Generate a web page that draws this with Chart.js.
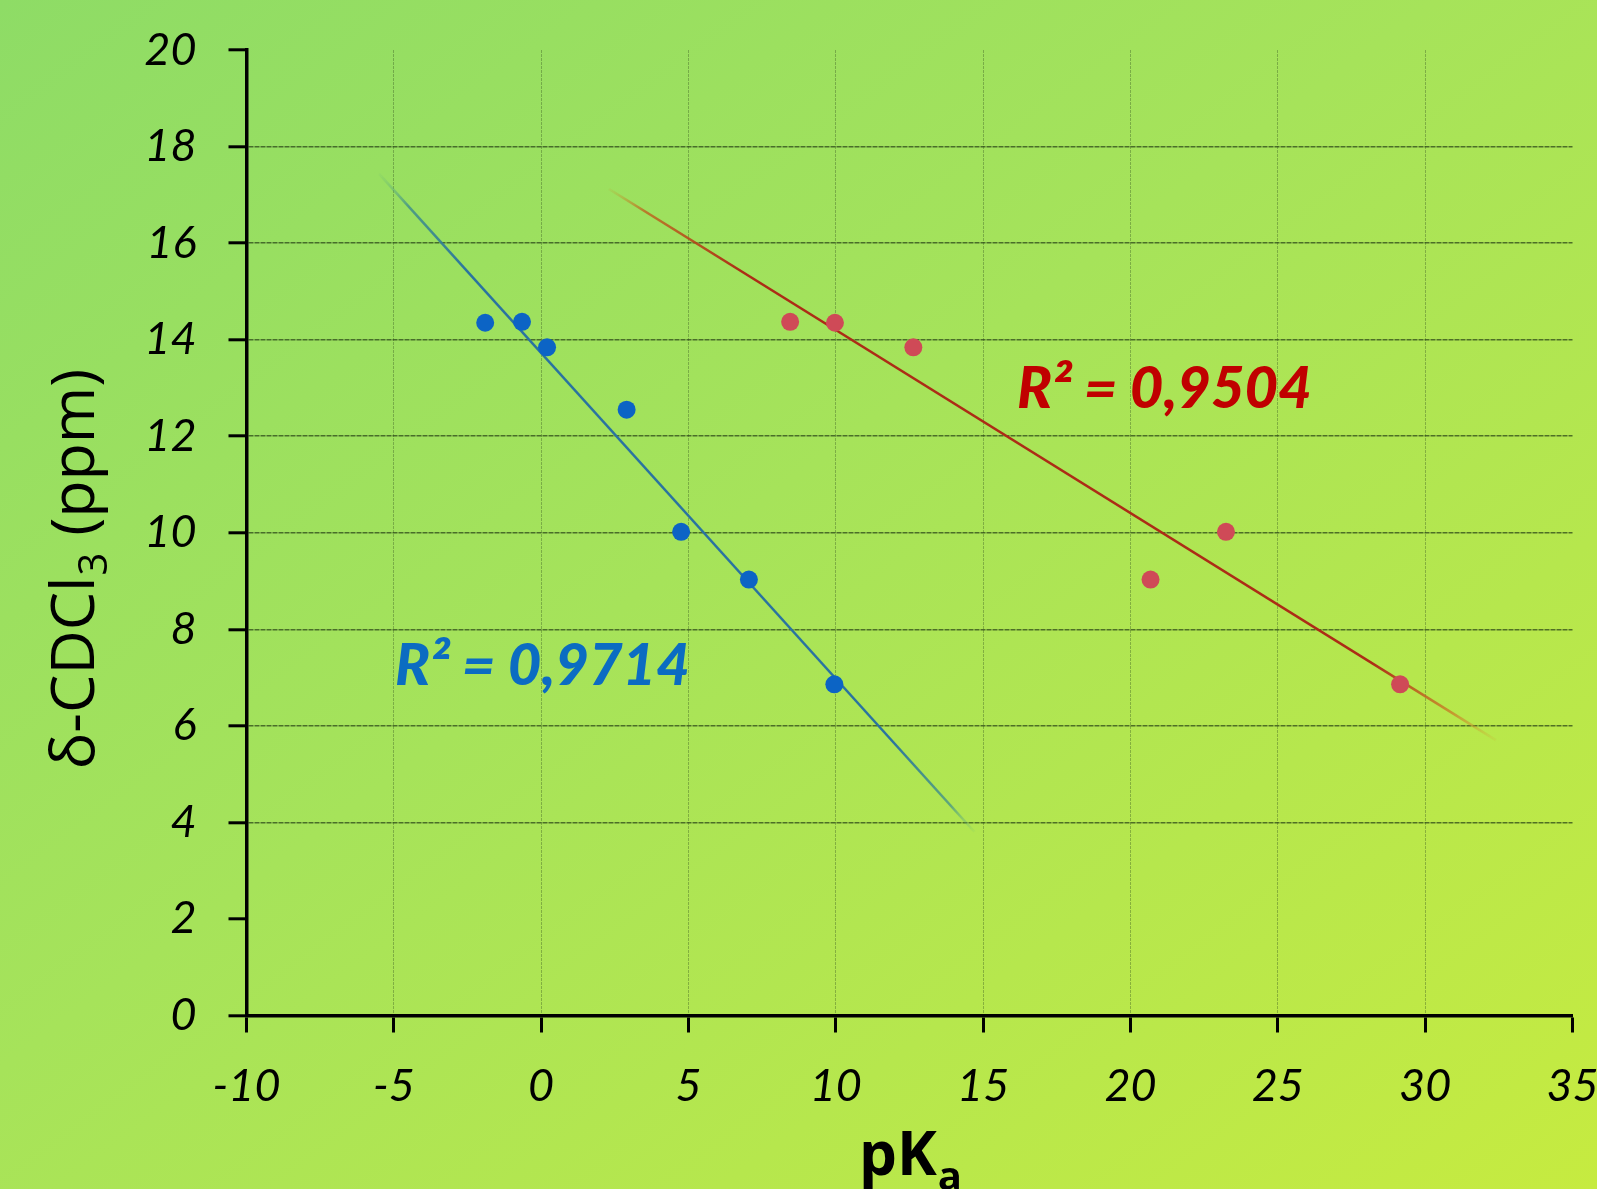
<!DOCTYPE html>
<html>
<head>
<meta charset="utf-8">
<title>pKa vs shift</title>
<script src="https://cdn.jsdelivr.net/npm/chart.js@4.4.1/dist/chart.umd.min.js"></script>
<style>
  html, body { margin: 0; padding: 0; }
  body {
    width: 1597px; height: 1189px; overflow: hidden;
    background: linear-gradient(to bottom right, #8edc66 0%, #a6e35a 45%, #c6eb40 100%);
  }
  #wrap { width: 1597px; height: 1189px; }
</style>
</head>
<body>
<div id="wrap"><canvas id="chart" width="1597" height="1189"></canvas></div>
<script>
// blue series
const bluePka = [-1.9, -0.65, 0.2, 2.9, 4.75, 7.05, 9.95];
const blueShift = [14.35, 14.37, 13.84, 12.55, 10.02, 9.03, 6.86];
// red series
const redPka = [8.45, 9.97, 12.63, 20.68, 23.24, 29.15];
const redShift = [14.37, 14.35, 13.84, 9.03, 10.02, 6.86];
// x extent of each trend line
const blueFitRange = [-5.5, 14.7];
const redFitRange = [2.3, 32.4];
// axes
const xTicks = [-10, -5, 0, 5, 10, 15, 20, 25, 30, 35];
const yTicks = [0, 2, 4, 6, 8, 10, 12, 14, 16, 18, 20];
const r2Blue = 'R² = 0,9714';
const r2Red = 'R² = 0,9504';

// least squares line through the points, evaluated at the range ends
function trendLine(xs, ys, range) {
    const n = xs.length;
    const mx = xs.reduce((a, b) => a + b, 0) / n;
    const my = ys.reduce((a, b) => a + b, 0) / n;
    let sxy = 0, sxx = 0;
    for (let i = 0; i < n; i++) {
        sxy += (xs[i] - mx) * (ys[i] - my);
        sxx += (xs[i] - mx) * (xs[i] - mx);
    }
    const m = sxy / sxx;
    const b = my - m * mx;
    return range.map(x => ({ x: x, y: m * x + b }));
}

function toPoints(xs, ys) {
    return xs.map((x, i) => ({ x: x, y: ys[i] }));
}

// trend lines fade out at both ends
function fadeStroke(stops, solid) {
    return function(ctx) {
        const chart = ctx.chart;
        const sx = chart.scales.x, sy = chart.scales.y;
        if (!sx || !sy || !chart.chartArea) return solid;
        const pts = ctx.dataset.data;
        const x0 = sx.getPixelForValue(pts[0].x), y0 = sy.getPixelForValue(pts[0].y);
        const x1 = sx.getPixelForValue(pts[1].x), y1 = sy.getPixelForValue(pts[1].y);
        if (![x0, y0, x1, y1].every(isFinite)) return solid;
        const g = chart.ctx.createLinearGradient(x0, y0, x1, y1);
        stops.forEach(s => g.addColorStop(s[0], s[1]));
        return g;
    };
}

const hiddenX = [-10, 35];
const hiddenY = [0, 2, 20];

const textPlugin = {
    id: 'textPlugin',
    afterDraw(chart) {
        const c = chart.ctx;
        c.save();
        c.textBaseline = 'alphabetic';
        c.textAlign = 'left';

        // x title pKa
        c.fillStyle = '#000';
        c.font = 'bold 60px "Open Sans"';
        const w1 = c.measureText('pK').width;
        c.font = 'bold 40px "Open Sans"';
        const w2 = c.measureText('a').width;
        let x = 910 - (w1 + w2) / 2;
        c.font = 'bold 60px "Open Sans"';
        c.fillText('pK', x, 1175);
        c.font = 'bold 40px "Open Sans"';
        c.fillText('a', x + w1 + 1, 1190);

        // y title
        c.save();
        c.translate(94, 570);
        c.rotate(-Math.PI / 2);
        const big = '61px "Open Sans"', small = '40px "Open Sans"';
        c.font = big;
        const a = c.measureText('δ-CDCl').width;
        const d = c.measureText(' (ppm)').width;
        c.font = small;
        const b = c.measureText('3').width;
        let tx = -(a + b + d) / 2;
        c.font = big;
        c.fillText('δ-CDCl', tx, 0);
        c.font = small;
        c.fillText('3', tx + a + 1, 13);
        c.font = big;
        c.fillText(' (ppm)', tx + a + b + 2, 0);
        c.restore();

        // R² labels
        c.font = 'italic 900 58px Lato';
        c.fillStyle = '#0b6cc2';
        c.fillText(r2Blue, 395, 685);
        c.fillStyle = '#c00000';
        c.fillText(r2Red, 1017, 408);
        c.restore();
    }
};

new Chart(document.getElementById('chart'), {
    type: 'scatter',
    data: {
        datasets: [
            {
                label: 'blue',
                data: toPoints(bluePka, blueShift),
                backgroundColor: '#0c64c5',
                borderWidth: 0,
                pointRadius: 9,
                pointHoverRadius: 9,
                order: 0
            },
            {
                label: 'red',
                data: toPoints(redPka, redShift),
                backgroundColor: '#cf4a57',
                borderWidth: 0,
                pointRadius: 9,
                pointHoverRadius: 9,
                order: 0
            },
            {
                label: 'blue fit',
                data: trendLine(bluePka, blueShift, blueFitRange),
                showLine: true,
                pointRadius: 0,
                borderWidth: 2.5,
                borderColor: fadeStroke([
                    [0, 'rgba(110,190,120,0.1)'],
                    [0.05, 'rgba(60,140,140,0.8)'],
                    [0.15, '#2a73a0'],
                    [0.86, '#2a73a0'],
                    [0.96, 'rgba(60,140,140,0.7)'],
                    [1, 'rgba(110,190,120,0.1)']
                ], '#2a73a0'),
                order: 1
            },
            {
                label: 'red fit',
                data: trendLine(redPka, redShift, redFitRange),
                showLine: true,
                pointRadius: 0,
                borderWidth: 2.5,
                borderColor: fadeStroke([
                    [0, 'rgba(200,150,40,0.1)'],
                    [0.04, 'rgba(190,100,30,0.8)'],
                    [0.15, '#ac2c16'],
                    [0.86, '#ac2c16'],
                    [0.95, 'rgba(200,130,40,0.8)'],
                    [1, 'rgba(210,160,50,0.1)']
                ], '#ac2c16'),
                order: 1
            }
        ]
    },
    options: {
        responsive: false,
        animation: false,
        layout: { padding: { top: 50, right: 24.5, left: 0, bottom: 0 } },
        plugins: { legend: { display: false }, tooltip: { enabled: false } },
        scales: {
            x: {
                type: 'linear',
                min: -10,
                max: 35,
                afterBuildTicks: s => { s.ticks = xTicks.map(v => ({ value: v })); },
                afterFit: s => { s.height = 173.5; s.paddingLeft = 0; s.paddingRight = 0; },
                border: { display: true, color: '#000', width: 3.5, dash: [3, 1] },
                grid: {
                    color: ctx => (ctx.tick && hiddenX.includes(ctx.tick.value)) ? 'rgba(0,0,0,0)' : 'rgba(45,75,30,0.35)',
                    lineWidth: 1,
                    tickColor: '#000',
                    tickWidth: 3,
                    tickLength: 17
                },
                ticks: {
                    font: { family: 'Lato', style: 'italic', size: 45 },
                    color: '#000',
                    padding: 27,
                    callback: v => String(v)
                }
            },
            y: {
                type: 'linear',
                min: 0,
                max: 20,
                afterBuildTicks: s => { s.ticks = yTicks.map(v => ({ value: v })); },
                afterFit: s => { s.width = 246.5; s.paddingTop = 0; s.paddingBottom = 0; },
                border: { display: true, color: '#000', width: 3.5, dash: [5, 1] },
                grid: {
                    color: ctx => (ctx.tick && hiddenY.includes(ctx.tick.value)) ? 'rgba(0,0,0,0)' : 'rgba(35,60,20,0.7)',
                    lineWidth: 1.6,
                    tickColor: '#000',
                    tickWidth: 3,
                    tickLength: 18
                },
                ticks: {
                    font: { family: 'Lato', style: 'italic', size: 45 },
                    color: '#000',
                    padding: 32,
                    callback: v => String(v)
                }
            }
        }
    },
    plugins: [textPlugin]
});
</script>
</body>
</html>
